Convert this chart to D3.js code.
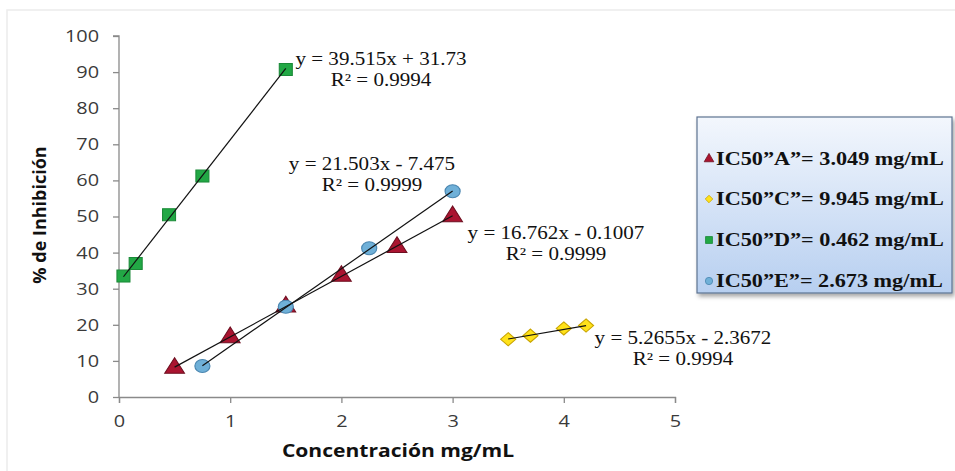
<!DOCTYPE html>
<html><head><meta charset="utf-8">
<script src="https://cdn.jsdelivr.net/npm/d3@7"></script>
<style>
body{margin:0;background:#fff}svg{display:block}
.sc{transform-box:fill-box;transform-origin:center;transform:scaleX(1.17)}
.sl{transform-box:fill-box;transform-origin:left center;transform:scaleX(1.17)}
</style>
</head><body><svg id="c" width="955" height="471"></svg>
<script>
// ---- data ----
const xTicks = [0,1,2,3,4,5];
const yTicks = [0,10,20,30,40,50,60,70,80,90,100];
const seriesNames = ["A","C","D","E"];
const xA = [0.5,1,1.5,2,2.5,3];
const yA = [8,16.5,25,33.5,41.5,50];
const xC = [3.5,3.7,4,4.2];
const yC = [16,17,19,19.8];
const xD = [0.04,0.15,0.45,0.75,1.5];
const yD = [33.5,37,50.5,61.2,90.7];
const xE = [0.75,1.5,2.25,3];
const yE = [8.6,25,41.2,57];
const slopes = [16.762,5.2655,39.515,21.503];
const intercepts = [-0.1007,-2.3672,31.73,-7.475];
const eqLabels = ["y = 16.762x - 0.1007","y = 5.2655x - 2.3672","y = 39.515x + 31.73","y = 21.503x - 7.475"];
const r2Labels = ["R\u00b2 = 0.9999","R\u00b2 = 0.9994","R\u00b2 = 0.9994","R\u00b2 = 0.9999"];
const legendLabels = ["IC50\u201dA\u201d= 3.049 mg/mL","IC50\u201dC\u201d= 9.945 mg/mL","IC50\u201dD\u201d= 0.462 mg/mL","IC50\u201dE\u201d= 2.673 mg/mL"];
const xTitle = "Concentración mg/mL";
const yTitle = "% de Inhibición";

// ---- styles ----
const colors = {A:{fill:"#aa1430",stroke:"#6e0f20"},C:{fill:"#ffe21a",stroke:"#c9a400"},D:{fill:"#22a845",stroke:"#1b8a38"},E:{fill:"#6fb0d8",stroke:"#4a86b0"}};
const shapes = {A:d3.symbolTriangle,C:d3.symbolDiamond2,D:d3.symbolSquare,E:d3.symbolCircle};
const sizes = {A:140,C:110,D:145,E:135};

const svg = d3.select("#c");
svg.append("path").attr("d","M7,471 V10 H955").attr("fill","none").attr("stroke","#ececec").attr("stroke-width",1.5);

const x = d3.scaleLinear().domain([0,5]).range([119,675]);
const y = d3.scaleLinear().domain([0,100]).range([397,36]);

const axisColor = "#8a8a8a";
const gx = svg.append("g").attr("transform",`translate(0,${y(0)})`)
  .call(d3.axisBottom(x).tickValues(xTicks).tickSize(6).tickPadding(12).tickFormat(d3.format("d")));
const gy = svg.append("g").attr("transform",`translate(${x(0)},0)`)
  .call(d3.axisLeft(y).tickValues(yTicks).tickSize(6).tickPadding(14).tickFormat(d3.format("d")));
[gx,gy].forEach(g=>{
  g.select(".domain").attr("stroke",axisColor).attr("stroke-width",1.3);
  g.selectAll(".tick line").attr("stroke",axisColor).attr("stroke-width",1.3);
  g.selectAll(".tick text").attr("fill","#3a3a3a").style("font-family","'Open Sans', sans-serif").style("font-size","17px");
});
gx.selectAll(".tick text").attr("class","sc");
gy.selectAll(".tick text").style("transform-box","fill-box").style("transform-origin","right center").style("transform","scaleX(1.17)");
gy.select(".domain").attr("d",`M-6,${y(100)}H0V${y(0)}`);

svg.append("text").attr("class","sc").attr("x",398).attr("y",457).attr("text-anchor","middle")
  .style("font-family","'Open Sans', sans-serif").style("font-weight","bold").style("font-size","18px").attr("fill","#111").text(xTitle);
svg.append("text").attr("transform","translate(46,215) rotate(-90)").attr("text-anchor","middle")
  .style("font-family","'Open Sans', sans-serif").style("font-weight","bold").style("font-size","18px").attr("fill","#111").text(yTitle);

const xs = [xA,xC,xD,xE], ys = [yA,yC,yD,yE];
const stretch = {A:"scale(1.1,1)",C:"scale(1.15,1)",D:"scale(1.08,1)",E:"scale(1.15,1)"};
seriesNames.forEach((s,i)=>{
  const pts = xs[i].map((v,j)=>[v,ys[i][j]]);
  svg.append("g").selectAll("path").data(pts).join("path")
    .attr("d",d3.symbol().type(shapes[s]).size(sizes[s]))
    .attr("transform",d=>`translate(${x(d[0])},${y(d[1])}) ${stretch[s]}`)
    .attr("fill",colors[s].fill).attr("stroke",colors[s].stroke).attr("stroke-width",1);
});
seriesNames.forEach((s,i)=>{
  const x0 = d3.min(xs[i]), x1 = d3.max(xs[i]);
  svg.append("line")
    .attr("x1",x(x0)).attr("y1",y(slopes[i]*x0+intercepts[i]))
    .attr("x2",x(x1)).attr("y2",y(slopes[i]*x1+intercepts[i]))
    .attr("stroke","#111").attr("stroke-width",1.2);
});

// equation labels: [centre x, line1 baseline]
const eqPos = [[556,239],[683,344],[381,65],[372,170]];
const eqFont = "'Liberation Serif', 'Times New Roman', serif";
seriesNames.forEach((s,i)=>{
  const g = svg.append("g").style("font-family",eqFont).style("font-size","18px").attr("fill","#111").attr("text-anchor","middle");
  g.append("text").attr("class","sc").attr("x",eqPos[i][0]).attr("y",eqPos[i][1]).text(eqLabels[i]);
  g.append("text").attr("class","sc").attr("x",eqPos[i][0]).attr("y",eqPos[i][1]+21).text(r2Labels[i]);
});

// legend
const defs = svg.append("defs");
const lg = defs.append("linearGradient").attr("id","lgGrad").attr("x1",0).attr("y1",0).attr("x2",0).attr("y2",1);
lg.append("stop").attr("offset","0%").attr("stop-color","#f3f7fd");
lg.append("stop").attr("offset","100%").attr("stop-color","#b7cff0");
const flt = defs.append("filter").attr("id","sh").attr("x","-10%").attr("y","-10%").attr("width","130%").attr("height","130%");
flt.append("feDropShadow").attr("dx",2).attr("dy",3).attr("stdDeviation",2).attr("flood-color","#000").attr("flood-opacity",0.35);
const L = {x:697,y:117,w:255,h:176};
svg.append("rect").attr("x",L.x).attr("y",L.y).attr("width",L.w).attr("height",L.h)
  .attr("fill","url(#lgGrad)").attr("stroke","#5d7391").attr("stroke-width",1.2).attr("filter","url(#sh)");
const rowY = [159,199,240,281];
const legendSizes = {A:40,C:36,D:48,E:42};
seriesNames.forEach((s,i)=>{
  svg.append("path").attr("d",d3.symbol().type(shapes[s]).size(legendSizes[s]))
    .attr("transform",`translate(709,${rowY[i]})`)
    .attr("fill",colors[s].fill).attr("stroke",colors[s].stroke).attr("stroke-width",0.8);
  svg.append("text").attr("class","sl").attr("x",716).attr("y",rowY[i]+6.5)
    .style("font-family",eqFont).style("font-weight","bold").style("font-size","19px").attr("fill","#111")
    .text(legendLabels[i]);
});
</script></body></html>
